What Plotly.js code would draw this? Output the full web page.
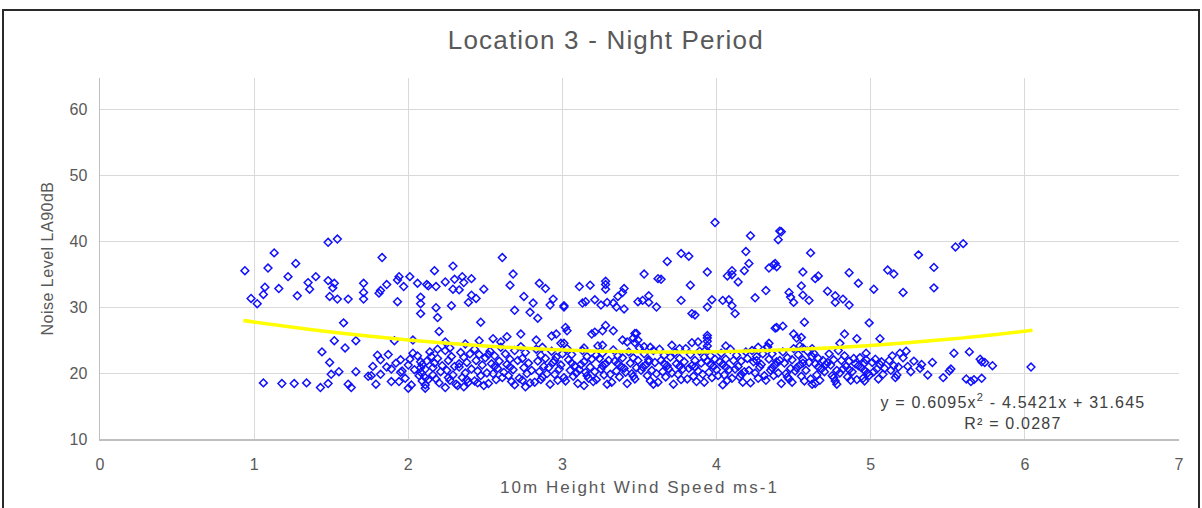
<!DOCTYPE html>
<html>
<head>
<meta charset="utf-8">
<script src="https://cdn.plot.ly/plotly-3.0.1.min.js"></script>
<style>
  html, body { margin: 0; padding: 0; background: #fff; width: 1202px; height: 508px; overflow: hidden; }
  #chart { position: absolute; left: 0; top: 0; width: 1202px; height: 508px; }
  #frame { position: absolute; left: 2px; top: 9px; width: 1194px; height: 620px; border: 2px solid #2a2a2a; pointer-events: none; }
  #chart .gtitle { letter-spacing: 1.2px; }
  #chart .xtitle { letter-spacing: 2px; }
  #chart .ytitle { letter-spacing: 0.5px; }
  #chart .annotation-text { letter-spacing: 1.2px; }
</style>
</head>
<body>
<div id="chart"></div>
<div id="frame"></div>
<script>
// Sparse / upper scatter points (wind speed m/s, LA90 dB)
const windUpper = [
0.94,1.13,1.09,1.27,1.07,1.06,0.98,1.02,1.16,1.22,1.28,1.35,1.36,1.40,1.48,1.54,1.48,1.52,1.51,1.49,1.54,1.61,1.71,1.71,1.71,1.58,1.52,1.66,1.59,1.44,1.49,1.50,1.55,1.66,1.74,1.06,1.18,1.26,1.34,1.43,1.48,1.61,1.63,
1.83,2.61,1.82,1.81,1.86,1.93,1.94,1.97,2.01,1.93,2.06,2.12,2.13,2.18,2.17,2.29,2.24,2.30,2.35,2.36,2.41,2.29,2.33,2.49,2.08,2.08,2.18,2.28,2.41,2.44,2.39,2.08,2.19,2.47,2.20,1.91,2.03,2.24,2.37,2.46,2.55,2.60,
2.68,2.66,2.85,2.89,2.75,2.81,2.69,2.79,2.84,2.94,2.92,3.01,3.01,3.11,3.18,3.28,3.28,3.28,3.13,3.15,3.21,3.25,3.29,3.33,3.35,3.36,3.39,3.40,3.40,3.49,2.73,2.64,2.83,2.93,2.96,3.02,3.03,2.99,3.01,3.14,3.19,3.21,3.26,3.28,3.33,3.26,3.39,3.42,3.46,3.47,3.47,
3.99,4.22,3.77,3.82,3.68,4.19,4.21,3.53,3.62,3.64,3.94,4.07,4.10,4.10,4.18,4.14,4.34,4.37,3.83,3.56,3.52,3.56,3.61,3.77,3.97,3.94,4.04,4.08,4.10,4.12,4.25,4.32,3.84,3.86,3.48,3.49,3.53,3.71,3.76,3.84,3.88,3.94,3.94,3.94,3.94,4.06,4.34,4.33,4.38,
4.41,4.42,4.40,4.61,4.38,4.39,4.56,4.64,4.66,4.86,5.11,5.15,4.55,4.92,5.02,5.21,4.47,4.48,4.50,4.56,4.60,4.72,4.77,4.82,4.77,4.86,4.39,4.43,4.57,4.99,4.50,4.52,4.55,4.83,4.91,5.06,4.80,4.54,4.56,4.62,5.23,5.19,5.21,4.64,4.96,
5.55,5.60,5.31,5.41,5.41,5.28,5.33,5.32,5.40,5.37,5.47,5.51,5.52,5.54,5.64,5.71,5.72,5.74,5.79,5.62,5.65,5.67,5.72,6.04,5.26,5.24
];
const noiseUpper = [
35.5,38.2,35.9,36.6,33.0,31.9,31.3,30.5,32.8,34.6,31.7,33.7,32.7,34.6,39.8,40.3,34.0,33.6,32.9,31.6,31.2,31.2,33.6,32.2,31.2,27.6,24.9,24.9,23.8,23.2,21.6,19.8,20.2,20.2,19.5,18.5,18.4,18.4,18.5,17.8,18.4,18.3,17.8,
37.5,37.5,32.5,32.1,33.4,34.1,34.6,33.1,34.6,30.8,33.6,33.4,33.2,33.1,35.5,36.2,33.8,34.2,34.6,33.7,34.3,32.7,32.6,32.7,31.5,30.5,29.9,30.2,31.8,31.3,30.7,29.0,28.4,27.7,26.3,24.9,25.0,24.7,24.4,24.9,25.2,24.7,
35.0,33.3,33.6,32.8,31.6,30.6,29.5,29.2,28.3,31.2,30.3,30.2,30.0,33.1,33.3,33.9,33.4,32.7,30.6,30.8,31.1,30.3,30.7,30.6,30.0,31.6,32.2,32.8,29.7,30.8,25.9,25.5,25.0,25.6,25.9,26.9,26.4,24.5,24.5,23.8,25.9,26.2,26.4,27.2,26.4,24.2,25.0,24.7,25.3,26.0,24.6,
42.8,40.8,38.1,37.7,36.9,38.4,36.6,35.0,34.3,34.2,35.3,34.7,34.9,35.5,35.5,33.8,35.9,36.4,33.3,31.7,31.0,30.7,30.0,31.0,31.1,30.0,31.0,31.1,30.2,29.0,31.4,32.5,29.0,28.8,26.0,25.0,24.0,24.2,23.7,24.6,24.7,24.8,25.7,25.3,24.1,24.1,24.5,24.0,26.8,
41.5,41.4,40.2,38.2,36.6,36.1,35.3,34.3,34.7,35.2,35.6,35.0,33.2,33.6,32.7,32.2,32.2,31.5,30.7,31.8,31.0,32.4,31.7,31.2,30.7,30.3,26.9,27.1,27.7,27.6,25.9,25.3,25.4,25.9,25.2,25.2,24.5,24.1,23.8,23.7,23.3,23.0,22.3,18.4,18.8,
39.1,39.6,37.9,36.0,32.9,21.8,21.3,20.7,21.6,19.7,19.3,20.3,20.6,23.0,23.2,22.1,21.7,21.6,21.1,19.1,18.7,19.0,19.2,20.9,20.2,21.0
];
// Dense band of points (roughly 18-24 dB)
const windBand = [
1.77,1.76,1.79,1.80,1.82,1.82,1.86,1.89,1.89,1.87,1.95,1.96,1.95,1.94,1.98,1.92,
2.01,2.00,2.04,2.02,2.00,2.03,2.08,2.09,2.08,2.11,2.08,2.07,2.11,2.09,2.11,2.11,2.13,2.12,
2.14,2.15,2.19,2.17,2.21,2.18,2.20,2.16,
2.24,2.27,2.28,2.26,2.30,2.25,2.29,2.27,2.31,2.24,
2.34,2.36,2.38,2.33,2.37,2.35,2.39,2.36,2.40,
2.43,2.46,2.44,2.48,2.45,2.47,2.43,2.49,2.50,
2.53,2.56,2.54,2.58,2.55,2.57,2.52,2.59,2.60,
2.63,2.66,2.64,2.68,2.65,2.67,2.62,2.69,
2.73,2.76,2.74,2.78,2.75,2.77,2.72,2.79,2.76,
2.83,2.86,2.84,2.88,2.85,2.87,2.82,2.89,2.90,
2.93,2.96,2.94,2.98,2.95,2.97,2.92,2.99,3.00,
3.03,3.06,3.04,3.08,3.05,3.07,3.02,3.09,3.10,
3.13,3.16,3.14,3.18,3.15,3.17,3.12,3.19,3.20,
3.23,3.26,3.24,3.28,3.25,3.27,3.22,3.29,3.30,
3.33,3.36,3.34,3.38,3.35,3.37,3.32,3.39,3.40,
3.43,3.46,3.44,3.48,3.45,3.47,3.42,3.49,3.50,
3.53,3.56,3.54,3.58,3.55,3.57,3.52,3.59,3.60,
3.63,3.66,3.64,3.68,3.65,3.67,3.62,3.69,3.70,
3.73,3.76,3.74,3.78,3.75,3.77,3.72,3.79,3.80,
3.83,3.86,3.84,3.88,3.85,3.87,3.82,3.89,3.90,
3.93,3.96,3.94,3.98,3.95,3.97,3.92,3.99,4.00,
4.03,4.06,4.04,4.08,4.05,4.07,4.02,4.09,4.10,
4.13,4.16,4.14,4.18,4.15,4.17,4.12,4.19,4.20,
4.23,4.26,4.24,4.28,4.25,4.27,4.22,4.29,4.30,
4.33,4.36,4.34,4.38,4.35,4.37,4.32,4.39,4.40,
4.43,4.46,4.44,4.48,4.45,4.47,4.42,4.49,4.50,
4.53,4.56,4.54,4.58,4.55,4.57,4.52,4.59,4.60,
4.63,4.66,4.64,4.68,4.65,4.67,4.62,4.69,4.70,
4.73,4.76,4.74,4.78,4.75,4.77,4.72,4.79,4.80,
4.83,4.86,4.84,4.88,4.85,4.87,4.82,4.89,4.90,
4.93,4.96,4.94,4.98,4.95,4.97,4.92,4.99,
5.03,5.06,5.04,5.08,5.05,5.07,5.02,
5.12,5.15,5.13,5.17,5.14,5.18,
2.06,2.16,2.22,2.26,2.33,2.38,2.41,2.45,2.51,2.56,2.61,2.66,2.71,2.74,2.80,2.86,2.91,2.95,3.01,3.06,
3.11,3.16,3.21,3.26,3.31,3.36,3.41,3.46,3.51,3.56,3.61,3.66,3.71,3.76,3.81,3.86,3.91,3.96,4.01,4.06,
4.11,4.16,4.21,4.26,4.31,4.36,4.41,4.46,4.51,4.56,4.61,4.66,4.71,4.76,4.81,4.86,4.91,4.96,5.01,5.09,
5.16,2.19,2.52,2.87,3.22,3.57,3.92,4.27,4.62,4.97,2.32,2.69,3.14,3.59,4.04,4.49,4.78
];
const noiseBand = [
21.0,19.6,18.3,22.7,22.0,19.8,20.9,20.6,18.7,22.8,20.1,20.3,22.0,18.7,19.2,21.5,
22.1,21.2,20.5,18.2,17.7,23.0,21.7,21.3,20.8,20.6,20.1,19.6,19.3,18.8,18.2,17.7,19.0,21.8,
23.2,22.5,22.2,21.5,20.2,19.1,18.5,20.8,
23.4,23.8,22.5,21.9,21.0,20.4,19.7,18.9,18.3,17.8,
23.1,22.4,21.6,20.9,20.0,19.3,18.6,17.9,22.9,
23.6,22.8,21.9,21.2,20.3,19.6,18.8,18.1,22.3,
23.3,22.6,21.4,20.7,19.9,19.0,18.4,21.8,23.9,
22.9,22.1,21.3,20.5,19.6,18.7,20.1,23.4,
24.0,23.1,22.2,21.5,20.8,19.9,19.2,18.5,17.9,
23.6,22.7,21.8,21.0,20.2,19.4,18.6,22.2,19.9,
23.3,22.4,21.6,20.6,19.8,18.9,18.3,21.2,22.9,
23.7,22.8,22.0,21.1,20.4,19.5,18.8,20.0,18.4,
23.4,22.5,21.7,20.9,20.1,19.2,21.3,22.1,18.7,
24.1,23.0,22.2,21.4,20.6,19.7,19.0,18.3,21.9,
23.5,22.6,21.8,21.0,20.3,19.4,18.6,22.3,20.7,
23.2,22.3,21.5,20.8,19.9,19.1,18.4,21.9,23.8,
22.9,22.0,21.2,20.4,19.6,18.8,20.9,23.4,21.6,
23.6,22.7,21.9,21.1,20.2,19.4,18.6,20.6,22.4,
23.1,22.2,21.4,20.6,19.8,19.0,18.3,21.7,23.7,
22.8,21.9,21.1,20.3,19.5,18.7,20.7,23.3,21.5,
23.5,22.6,21.8,21.0,20.1,19.3,18.6,22.1,20.5,
23.0,22.1,21.3,20.5,19.7,18.9,21.7,23.6,19.2,
22.7,21.8,21.0,20.2,19.4,18.6,20.6,23.2,22.2,
23.4,22.5,21.7,20.9,20.0,19.2,18.5,21.3,22.9,
23.9,22.9,22.1,21.2,20.4,19.6,18.9,21.7,20.0,
23.2,22.3,21.5,20.7,19.9,19.1,18.4,22.0,23.7,
22.8,22.0,21.2,20.4,19.5,18.8,20.8,23.3,21.6,
23.0,22.2,21.4,20.6,19.7,18.9,18.3,21.9,20.2,
22.9,22.0,21.2,20.4,19.6,18.8,21.6,23.4,20.0,
22.6,21.8,21.0,20.2,19.4,18.9,20.6,22.2,21.4,
22.3,21.5,20.8,20.0,19.2,22.0,21.1,19.6,
22.1,21.3,20.6,19.8,19.1,21.7,20.2,
21.9,21.1,20.4,19.7,22.6,20.9,
22.6,19.7,21.1,19.3,21.4,19.0,20.6,18.5,20.0,21.0,19.3,20.9,21.9,18.9,20.4,19.0,20.8,21.9,19.3,21.5,
20.5,19.6,20.2,21.1,19.8,21.4,20.1,19.5,20.4,21.7,19.9,21.4,20.0,21.0,19.1,20.9,19.8,21.3,19.6,20.9,
21.9,19.8,20.4,21.9,19.6,20.8,21.9,19.4,20.3,21.5,19.1,20.9,21.3,19.3,21.9,20.5,19.0,20.4,21.6,20.7,
19.3,23.6,22.8,23.9,22.7,23.9,22.4,23.9,22.5,23.0,18.1,18.2,18.1,18.3,18.2,18.6,18.3
];
// Polynomial trendline (shown equation)
const trendX = [0.93, 1.5, 2.0, 2.5, 3.0, 3.5, 4.0, 4.5, 5.0, 5.5, 6.05];
const trendY = [27.95, 26.20, 25.00, 24.10, 23.50, 23.21, 23.23, 23.55, 24.17, 25.10, 26.47];

const xTicks = [0, 1, 2, 3, 4, 5, 6, 7];
const yTicks = [10, 20, 30, 40, 50, 60];

const FONT = 'Liberation Sans, Arial, sans-serif';
const GREY = '#595959';

const scatter = {
  type: 'scatter', mode: 'markers',
  x: windUpper.concat(windBand),
  y: noiseUpper.concat(noiseBand),
  marker: { symbol: 'diamond-open', size: 6, color: '#1010ff', line: { width: 1.5, color: '#1010ff' } },
  hoverinfo: 'x+y', showlegend: false
};
const trend = {
  type: 'scatter', mode: 'lines',
  x: trendX, y: trendY,
  line: { color: '#ffff00', width: 3.5, shape: 'spline' },
  showlegend: false
};

const layout = {
  width: 1202, height: 508,
  margin: { l: 100, r: 23, t: 78, b: 69 },
  paper_bgcolor: '#ffffff', plot_bgcolor: '#ffffff',
  font: { family: FONT, color: GREY, size: 15 },
  title: {
    text: 'Location 3 - Night Period',
    font: { family: FONT, size: 26, color: GREY },
    x: 0.504, xref: 'container', xanchor: 'center',
    y: 0.921, yref: 'container', yanchor: 'middle'
  },
  xaxis: {
    range: [0, 7], tickvals: xTicks, ticktext: xTicks.map(String),
    showgrid: true, gridcolor: '#d9d9d9', gridwidth: 1,
    showline: true, linecolor: '#bfbfbf', linewidth: 1.5, mirror: false,
    zeroline: false, ticks: '', ticklabelstandoff: 10,
    tickfont: { family: FONT, size: 16, color: GREY },
    title: { text: '10m Height Wind Speed ms-1', font: { family: FONT, size: 17, color: GREY }, standoff: 9 }
  },
  yaxis: {
    range: [10, 64.7], tickvals: yTicks, ticktext: yTicks.map(String),
    showgrid: true, gridcolor: '#d9d9d9', gridwidth: 1,
    showline: true, linecolor: '#bfbfbf', linewidth: 1.5,
    zeroline: false, ticks: '', ticklabelstandoff: 8,
    tickfont: { family: FONT, size: 16, color: GREY },
    title: { text: 'Noise Level LA90dB', font: { family: FONT, size: 16, color: GREY }, standoff: 12 }
  },
  annotations: [{
    xref: 'x', yref: 'y', x: 5.92, y: 14.1,
    text: 'y = 0.6095x<sup>2</sup> - 4.5421x + 31.645<br>R² = 0.0287',
    showarrow: false, align: 'center',
    font: { family: FONT, size: 16, color: '#404040' },
    xanchor: 'center', yanchor: 'middle'
  }]
};

Plotly.newPlot('chart', [scatter, trend], layout, { displayModeBar: false, staticPlot: true });
</script>
</body>
</html>
